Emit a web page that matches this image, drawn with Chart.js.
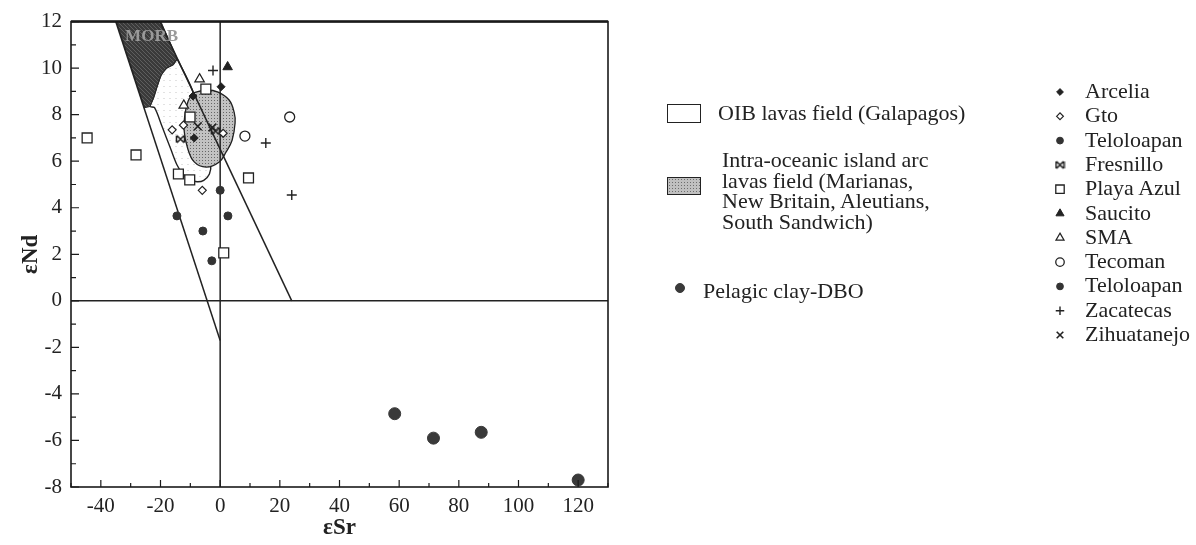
<!DOCTYPE html>
<html>
<head>
<meta charset="utf-8">
<script src="https://cdn.jsdelivr.net/npm/chart.js@4.4.0/dist/chart.umd.min.js"></script>
<style>
body{margin:0;background:#fff;}
#wrap{position:relative;width:1196px;height:545px;font-family:"Liberation Serif","Times New Roman",serif;color:#222;}
#wrap canvas{position:absolute;left:0;top:0;}
.t{position:absolute;font-size:22px;line-height:22px;white-space:nowrap;}
.box{position:absolute;border:1.5px solid #222;box-sizing:border-box;}
</style>
</head>
<body>
<div id="wrap">
  <canvas id="c" width="1196" height="545"></canvas>

  <div class="box" style="left:667px;top:104px;width:34px;height:19px;background:#fff;"></div>
  <div class="t" style="left:718px;top:102px;">OIB lavas field (Galapagos)</div>

  <div class="box" style="left:667px;top:177px;width:34px;height:18px;background:#c0c0c0 radial-gradient(#6e6e6e 0.7px, transparent 0.9px) 0 0/3px 3px;"></div>
  <div class="t" style="left:722px;top:150px;line-height:20.6px;">Intra-oceanic island arc<br>lavas field (Marianas,<br>New Britain, Aleutians,<br>South Sandwich)</div>

  <div class="t" style="left:703px;top:280px;">Pelagic clay-DBO</div>

  <div id="legend2"></div>
</div>

<script>
// Sr-Nd isotope data
const arcelia = [[-9.1, 8.8], [-8.7, 7.0], [0.3, 9.2]];
const gto = [[-16.1, 7.35], [-12.3, 7.55], [1.0, 7.2], [-6.0, 4.75]];
const teloloapanA = [[0.0, 4.75], [-14.5, 3.65]];
const fresnillo = [[-13.3, 6.95], [-1.6, 7.3]];
const playaAzul = [[-44.6, 7.0], [-28.2, 6.27], [-4.8, 9.1], [-10.1, 7.9], [-14.0, 5.45], [-10.2, 5.2], [9.5, 5.28], [1.2, 2.06]];
const saucito = [[2.5, 10.05]];
const sma = [[-6.9, 9.53], [-12.2, 8.4]];
const tecoman = [[8.3, 7.08], [23.3, 7.9]];
const teloloapanB = [[2.6, 3.65], [-5.8, 3.0], [-2.8, 1.72]];
const zacatecas = [[-2.4, 9.9], [15.3, 6.78], [24.0, 4.55]];
const zihuatanejo = [[-7.5, 7.5], [-2.6, 7.45]];
const pelagicClay = [[58.5, -4.85], [71.5, -5.9], [87.5, -5.65], [120, -7.7]];

// fields and reference lines
const morbField = [[-35.5, 12.3], [-20.9, 12.3], [-14.4, 10.4], [-15.8, 10.15], [-18, 10.0], [-19.8, 9.7], [-21, 9.27], [-22.4, 8.7], [-23.5, 8.35], [-25.4, 8.3], [-35.5, 12.3]];
const oibField = [[-14.4, 10.4], [-9.3, 9.05], [-6, 7.5], [-3.2, 5.9], [-3.6, 5.45], [-5.5, 5.18], [-7.7, 5.12], [-10, 5.2], [-12.5, 5.45], [-14.5, 5.85], [-16.5, 6.5], [-19.5, 7.5], [-22, 8.3], [-23.5, 8.35], [-22.4, 8.7], [-21, 9.27], [-19.8, 9.7], [-18, 10.0], [-15.8, 10.15], [-14.4, 10.4]];
const arcField = [[-9.1, 8.93], [-4.7, 9.06], [-0.7, 8.97], [3.0, 8.63], [4.7, 8.1], [5.0, 7.64], [4.0, 6.9], [2.0, 6.4], [-0.3, 5.97], [-4.7, 5.75], [-8.7, 5.97], [-11, 6.6], [-12.1, 7.34], [-11.7, 8.1], [-10.7, 8.6], [-9.1, 8.93]];
const mantleLeft = [[-35, 12], [0, -1.7]];
const mantleRight = [[-20.2, 12], [24, 0]];
const zeroSr = [[0, 12], [0, -8]];
const zeroNd = [[-50, 0], [130, 0]];

const xTicks = [-40, -20, 0, 20, 40, 60, 80, 100, 120];
const yTicks = [-8, -6, -4, -2, 0, 2, 4, 6, 8, 10, 12];

const pts = a => a.map(p => ({x: p[0], y: p[1]}));

function makePattern(size, base, draw) {
  const c = document.createElement('canvas');
  c.width = size; c.height = size;
  const g = c.getContext('2d');
  g.fillStyle = base; g.fillRect(0, 0, size, size);
  draw(g);
  return document.getElementById('c').getContext('2d').createPattern(c, 'repeat');
}
const arcPattern = makePattern(3, '#c2c2c2', g => { g.fillStyle = '#666'; g.fillRect(1, 1, 1, 1); });
const morbPattern = makePattern(4, '#3a3a3a', g => {
  g.fillStyle = '#5e5e5e';
  g.fillRect(0, 0, 1, 1); g.fillRect(1, 1, 1, 1); g.fillRect(2, 2, 1, 1); g.fillRect(3, 3, 1, 1);
});
const oibPattern = makePattern(6, '#ffffff', g => { g.fillStyle = '#e2e2e2'; g.fillRect(1, 2, 2, 1); });

// Fresnillo symbol: X with side bars
const fresSym = document.createElement('canvas');
fresSym.width = 11; fresSym.height = 11;
(function () {
  const g = fresSym.getContext('2d');
  g.strokeStyle = '#222'; g.lineWidth = 1.6;
  g.beginPath();
  g.moveTo(2, 2); g.lineTo(9, 9); g.moveTo(9, 2); g.lineTo(2, 9);
  g.moveTo(1.5, 2); g.lineTo(1.5, 9); g.moveTo(9.5, 2); g.lineTo(9.5, 9);
  g.stroke();
})();

const series = [
  {label: 'Arcelia', data: arcelia, pointStyle: 'rectRot', pointRadius: 4, backgroundColor: '#222', borderColor: '#222', borderWidth: 1},
  {label: 'Gto', data: gto, pointStyle: 'rectRot', pointRadius: 4, backgroundColor: '#fff', borderColor: '#222', borderWidth: 1.2},
  {label: 'Teloloapan', data: teloloapanA, pointStyle: 'circle', pointRadius: 4, backgroundColor: '#333', borderColor: '#333', borderWidth: 1},
  {label: 'Fresnillo', data: fresnillo, pointStyle: fresSym, pointRadius: 5, backgroundColor: '#222', borderColor: '#222', borderWidth: 0},
  {label: 'Playa Azul', data: playaAzul, pointStyle: 'rect', pointRadius: 7, backgroundColor: '#fff', borderColor: '#222', borderWidth: 1.3},
  {label: 'Saucito', data: saucito, pointStyle: 'triangle', pointRadius: 5.5, backgroundColor: '#222', borderColor: '#222', borderWidth: 1},
  {label: 'SMA', data: sma, pointStyle: 'triangle', pointRadius: 5.5, backgroundColor: '#fff', borderColor: '#222', borderWidth: 1.2},
  {label: 'Tecoman', data: tecoman, pointStyle: 'circle', pointRadius: 5, backgroundColor: '#fff', borderColor: '#222', borderWidth: 1.3},
  {label: 'Teloloapan', data: teloloapanB, pointStyle: 'circle', pointRadius: 4, backgroundColor: '#333', borderColor: '#333', borderWidth: 1},
  {label: 'Zacatecas', data: zacatecas, pointStyle: 'cross', pointRadius: 5, backgroundColor: '#222', borderColor: '#222', borderWidth: 1.4},
  {label: 'Zihuatanejo', data: zihuatanejo, pointStyle: 'crossRot', pointRadius: 5.5, backgroundColor: '#222', borderColor: '#222', borderWidth: 1.6}
];
const pelagic = {label: 'Pelagic clay-DBO', data: pelagicClay, pointStyle: 'circle', pointRadius: 6, backgroundColor: '#3a3a3a', borderColor: '#3a3a3a', borderWidth: 1};

function lineSet(label, data, extra) {
  return Object.assign({label: label, data: pts(data), showLine: true, pointRadius: 0, borderColor: '#222', borderWidth: 1.5, fill: false, order: 5}, extra || {});
}

const datasets = series.concat([pelagic]).map(s => Object.assign({}, s, {data: pts(s.data), order: 0}));
datasets.push(
  lineSet('MORB', morbField, {fill: 'shape', backgroundColor: morbPattern, borderColor: '#2a2a2a', borderWidth: 1, order: 8}),
  lineSet('OIB lavas field (Galapagos)', oibField, {fill: 'shape', backgroundColor: oibPattern, borderWidth: 1.4, tension: 0.3, order: 9}),
  lineSet('Intra-oceanic island arc lavas field', arcField, {fill: 'shape', backgroundColor: arcPattern, borderWidth: 1.3, tension: 0.4, order: 7}),
  lineSet('mantle array left', mantleLeft),
  lineSet('mantle array right', mantleRight),
  lineSet('eSr = 0', zeroSr),
  lineSet('eNd = 0', zeroNd)
);

// legend rows at the right
const legendLeft = 1085, legendTop = 92, legendStep = 24.3;
const legend2 = document.getElementById('legend2');
series.forEach((s, i) => {
  const d = document.createElement('div');
  d.className = 't';
  d.style.left = legendLeft + 'px';
  d.style.top = (legendTop + i * legendStep - 12) + 'px';
  d.textContent = s.label;
  legend2.appendChild(d);
});

const frameAndMarks = {
  id: 'frameAndMarks',
  afterDraw(chart) {
    const {ctx, chartArea: a, scales: {x, y}} = chart;
    ctx.save();
    ctx.strokeStyle = '#1a1a1a';
    // inner ticks
    ctx.lineWidth = 1.2;
    ctx.beginPath();
    for (let v = -8; v <= 12; v++) {
      const py = y.getPixelForValue(v);
      const len = v % 2 === 0 ? 8 : 5;
      ctx.moveTo(a.left, py); ctx.lineTo(a.left + len, py);
    }
    for (let v = -50; v <= 130; v += 10) {
      const px = x.getPixelForValue(v);
      const len = v % 20 === 0 ? 7 : 4;
      ctx.moveTo(px, a.bottom); ctx.lineTo(px, a.bottom - len);
    }
    ctx.stroke();
    // frame
    ctx.lineWidth = 1.6;
    ctx.strokeRect(a.left, a.top, a.right - a.left, a.bottom - a.top);
    ctx.lineWidth = 2.5;
    ctx.beginPath(); ctx.moveTo(a.left, a.top); ctx.lineTo(a.right, a.top); ctx.stroke();
    // MORB label
    ctx.font = 'bold 17px "Liberation Serif", serif';
    ctx.fillStyle = '#9a9a9a';
    ctx.textAlign = 'center'; ctx.textBaseline = 'middle';
    ctx.fillText('MORB', x.getPixelForValue(-23), y.getPixelForValue(11.35));
    // legend markers
    const all = chart.data.datasets;
    series.forEach((s, i) => {
      const ds = all[i];
      ctx.fillStyle = ds.backgroundColor; ctx.strokeStyle = ds.borderColor; ctx.lineWidth = ds.borderWidth;
      Chart.helpers.drawPoint(ctx, {pointStyle: ds.pointStyle, radius: ds.pointRadius * 0.85, borderWidth: ds.borderWidth}, 1060, legendTop + i * legendStep);
    });
    const pd = all[series.length];
    ctx.fillStyle = pd.backgroundColor; ctx.strokeStyle = pd.borderColor; ctx.lineWidth = 1;
    Chart.helpers.drawPoint(ctx, {pointStyle: 'circle', radius: 4.5, borderWidth: 1}, 680, 288);
    ctx.restore();
  }
};

new Chart(document.getElementById('c'), {
  type: 'scatter',
  data: {datasets: datasets},
  options: {
    responsive: false,
    animation: false,
    devicePixelRatio: 1,
    layout: {padding: {top: 21, right: 588, left: 0, bottom: 0}},
    plugins: {legend: {display: false}, tooltip: {enabled: false}},
    scales: {
      x: {
        type: 'linear', min: -50, max: 130,
        afterBuildTicks: s => { s.ticks = xTicks.map(v => ({value: v})); },
        afterFit: s => { s.height = 58; },
        grid: {display: false, drawTicks: false},
        border: {display: false},
        ticks: {color: '#222', padding: 7, font: {family: '"Liberation Serif", serif', size: 21}},
        title: {display: true, text: 'εSr', color: '#222', padding: {top: 0, bottom: 3}, font: {family: '"Liberation Serif", serif', size: 23, weight: 'bold'}}
      },
      y: {
        type: 'linear', min: -8, max: 12,
        afterBuildTicks: s => { s.ticks = yTicks.map(v => ({value: v})); },
        afterFit: s => { s.width = 71; },
        grid: {display: false, drawTicks: false},
        border: {display: false},
        ticks: {color: '#222', padding: 9, font: {family: '"Liberation Serif", serif', size: 21}},
        title: {display: true, text: 'εNd', color: '#222', padding: {top: 17, bottom: 0}, font: {family: '"Liberation Serif", serif', size: 23, weight: 'bold'}}
      }
    }
  },
  plugins: [frameAndMarks]
});
</script>
</body>
</html>
